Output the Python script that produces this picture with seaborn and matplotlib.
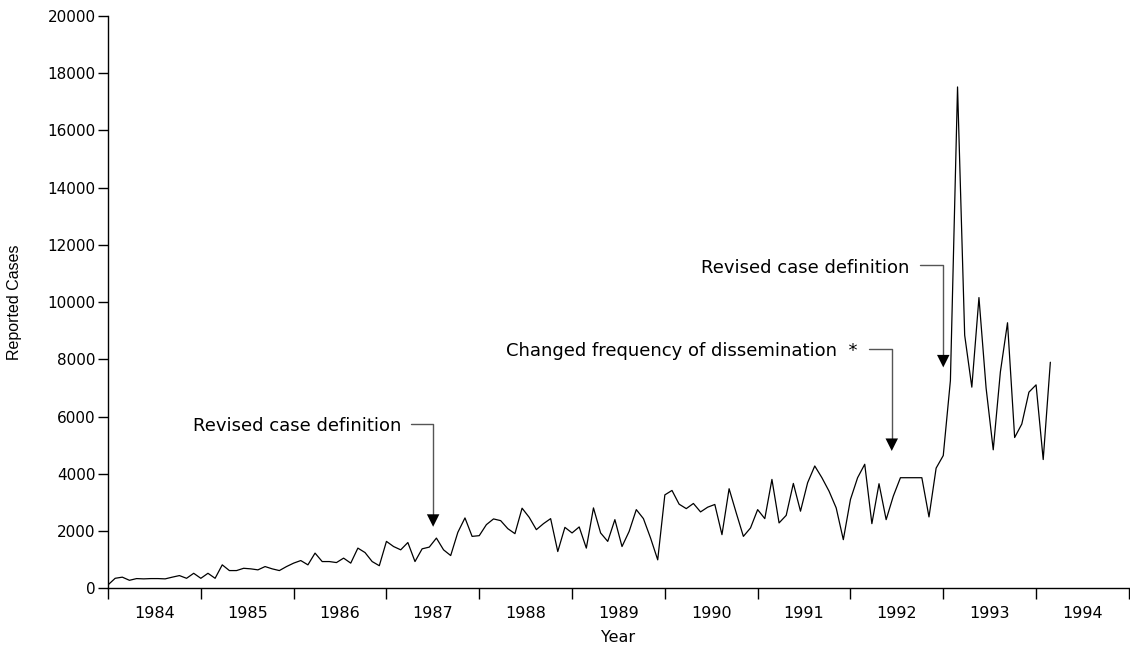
import numpy as np
import pandas as pd
import seaborn as sns
import matplotlib.pyplot as plt

# reported cases per 4-week period, starting Jan 1984 (13 periods per year)
cases = [120, 350, 390, 280, 340, 330, 340, 340, 330, 390, 445, 350, 525,
         350, 525, 350, 820, 620, 620, 700, 680, 645, 760, 680, 620, 760,
         880, 970, 820, 1230, 935, 935, 900, 1055, 880, 1405, 1250, 935, 790,
         1640, 1460, 1345, 1600, 935, 1380, 1440, 1755, 1345, 1145, 1955, 2460, 1815,
         1840, 2225, 2425, 2365, 2085, 1910, 2800, 2480, 2050, 2260, 2435, 1285,
         2130, 1935, 2145, 1405, 2810, 1935, 1640, 2400, 1460, 1990, 2750, 2435,
         1755, 995, 3265, 3420, 2940, 2785, 2965, 2670, 2835, 2930, 1875, 3480,
         2635, 1815, 2110, 2750, 2435, 3805, 2285, 2550, 3665, 2695, 3690,
         4275, 3865, 3395, 2810, 1700, 3105, 3865, 4335, 2260, 3655, 2400,
         3220, 3865, 3865, 3865, 3865, 2495, 4200, 4640, 7260, 17520, 8845,
         7030, 10160, 7000, 4840, 7560, 9280, 5270, 5740, 6855, 7110, 4500, 7900]
start_year = 1984
periods_per_year = 13
year_labels = [str(y) for y in range(1984, 1995)]

# annotations: text, text right edge (x, y), elbow start x, arrow x, elbow y, arrow tip y
notes = [
    ("Revised case definition", 1987.165, 5670, 1987.263, 1987.503, 5740, 2150),
    ("Changed frequency of dissemination  *", 1992.08, 8310, 1992.20, 1992.445, 8378, 4800),
    ("Revised case definition", 1992.64, 11190, 1992.75, 1993.0, 11290, 7720),
]

df = pd.DataFrame({"period": np.arange(len(cases)), "cases": cases})
df["year"] = start_year + df["period"] / periods_per_year

sns.set_style("ticks")
plt.rcParams["font.family"] = ["DejaVu Sans"]

fig = plt.figure(figsize=(11.3, 6.5), dpi=100)
ax = fig.add_axes([0.0956, 0.0949, 0.9034, 0.8805])

sns.lineplot(data=df, x="year", y="cases", ax=ax, color="black", linewidth=0.9)

ax.set_xlim(1984, 1995)
ax.set_ylim(0, 20000)
ax.set_yticks(range(0, 20001, 2000))
ax.set_xticks(range(1984, 1996))
ax.set_xticklabels([])
ax.set_xticks([y + 0.5 for y in range(1984, 1995)], minor=True)
ax.set_xticklabels(year_labels, minor=True)
ax.tick_params(axis="x", which="major", length=8, width=1, color="black", direction="out")
ax.tick_params(axis="x", which="minor", length=0, pad=13, labelsize=11.5, labelcolor="black")
ax.tick_params(axis="y", length=7, width=1, color="black", labelsize=11, pad=2, labelcolor="black")

ax.set_xlabel("Year", fontsize=11.5, labelpad=6, color="black")
ax.set_ylabel("Reported Cases", fontsize=11.5, family="Liberation Sans", labelpad=18, color="black")

sns.despine(ax=ax)
for s in ["left", "bottom"]:
    ax.spines[s].set_linewidth(1)
    ax.spines[s].set_color("black")

for text, tx, ty, x0, xv, yh, ytip in notes:
    ax.text(tx, ty, text, ha="right", va="center", fontsize=13, color="black")
    ax.plot([x0, xv, xv], [yh, yh, ytip + 300], color="#555555", linewidth=1)
    ax.annotate("", xy=(xv, ytip), xytext=(xv, ytip + 600),
                arrowprops=dict(arrowstyle="-|>,head_length=0.9,head_width=0.45",
                                color="black", lw=0, mutation_scale=10,
                                shrinkA=0, shrinkB=0))

fig.savefig("out.png", dpi=100)
